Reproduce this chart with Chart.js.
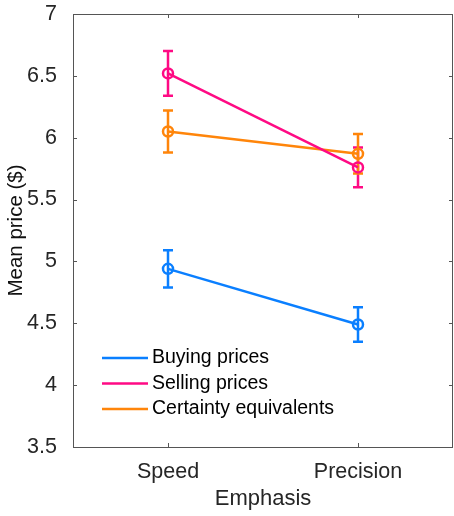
<!DOCTYPE html>
<html>
<head>
<meta charset="utf-8">
<script src="https://cdn.jsdelivr.net/npm/chart.js@4.4.1/dist/chart.umd.min.js"></script>
<style>
  html, body { margin: 0; padding: 0; background: #fff; }
  #wrap { width: 454px; height: 516px; }
</style>
</head>
<body>
<div id="wrap"><canvas id="chart"></canvas></div>
<script>
// DATA
const categories = ["Speed", "Precision"];
const buying = [4.94, 4.49];
const buyingErr = [0.15, 0.14];
const selling = [6.52, 5.76];
const sellingErr = [0.18, 0.16];
const certainty = [6.05, 5.87];
const certaintyErr = [0.17, 0.16];
const yTicks = [3.5, 4, 4.5, 5, 5.5, 6, 6.5, 7];

const BLUE = "#0a7fff";
const PINK = "#ff0a84";
const ORANGE = "#ff850a";
const AXIS = "#262626";
const FONT = "'Liberation Sans', Arial, sans-serif";

function makeSet(label, values, errs, color) {
  return {
    label: label,
    data: values,
    errors: errs,
    borderColor: color,
    backgroundColor: "rgba(0,0,0,0)",
    borderWidth: 2.5,
    pointRadius: 5,
    pointBorderWidth: 2.5,
    pointBackgroundColor: "rgba(0,0,0,0)",
    pointBorderColor: color,
    tension: 0
  };
}

// error bars, frame, inner ticks and legend
const extras = {
  id: "extras",
  beforeDatasetsDraw(chart) {
    const ctx = chart.ctx;
    const x = chart.scales.x;
    const y = chart.scales.y;
    ctx.save();
    chart.data.datasets.forEach((ds) => {
      ctx.strokeStyle = ds.borderColor;
      ctx.lineWidth = 2.5;
      ds.data.forEach((v, i) => {
        const px = x.getPixelForValue(i);
        const top = y.getPixelForValue(v + ds.errors[i]);
        const bot = y.getPixelForValue(v - ds.errors[i]);
        ctx.beginPath();
        ctx.moveTo(px, top); ctx.lineTo(px, bot);
        ctx.moveTo(px - 5, top); ctx.lineTo(px + 5, top);
        ctx.moveTo(px - 5, bot); ctx.lineTo(px + 5, bot);
        ctx.stroke();
      });
    });
    ctx.restore();
  },
  afterDraw(chart) {
    const ctx = chart.ctx;
    const a = chart.chartArea;
    const x = chart.scales.x;
    const y = chart.scales.y;
    ctx.save();
    ctx.strokeStyle = "#555";
    ctx.lineWidth = 1;
    ctx.strokeRect(a.left + 0.5, a.top + 0.5, a.right - a.left - 1, a.bottom - a.top);
    ctx.beginPath();
    yTicks.forEach((t) => {
      const py = Math.round(y.getPixelForValue(t)) + 0.5;
      ctx.moveTo(a.left, py); ctx.lineTo(a.left + 4, py);
      ctx.moveTo(a.right, py); ctx.lineTo(a.right - 4, py);
    });
    categories.forEach((c, i) => {
      const px = Math.round(x.getPixelForValue(i)) + 0.5;
      ctx.moveTo(px, a.bottom); ctx.lineTo(px, a.bottom - 4);
      ctx.moveTo(px, a.top); ctx.lineTo(px, a.top + 4);
    });
    ctx.stroke();

    // legend
    ctx.font = "19.5px " + FONT;
    ctx.textBaseline = "middle";
    ctx.fillStyle = "#000";
    chart.data.datasets.forEach((ds, i) => {
      const ly = 358 + i * 25.5;
      ctx.strokeStyle = ds.borderColor;
      ctx.lineWidth = 2.5;
      ctx.beginPath();
      ctx.moveTo(102, ly); ctx.lineTo(148, ly);
      ctx.stroke();
      ctx.fillText(ds.label, 152, ly);
    });
    ctx.restore();
  }
};

const chart = new Chart(document.getElementById("chart"), {
  type: "line",
  data: {
    labels: categories,
    datasets: [
      makeSet("Buying prices", buying, buyingErr, BLUE),
      makeSet("Selling prices", selling, sellingErr, PINK),
      makeSet("Certainty equivalents", certainty, certaintyErr, ORANGE)
    ]
  },
  options: {
    responsive: true,
    maintainAspectRatio: false,
    animation: false,
    layout: { padding: { top: 14, right: 1, left: 0, bottom: 0 }, autoPadding: false },
    plugins: {
      legend: { display: false },
      tooltip: { enabled: false }
    },
    scales: {
      x: {
        type: "category",
        offset: true,
        grid: { display: false },
        border: { display: false },
        ticks: { color: AXIS, font: { family: FONT, size: 21.5 }, padding: 4 },
        title: { display: true, text: "Emphasis", color: AXIS, font: { family: FONT, size: 22 }, padding: { top: 5 } },
        afterFit(s) { s.height = 69; s.paddingLeft = 0; s.paddingRight = 0; }
      },
      y: {
        min: 3.5,
        max: 7,
        grid: { display: false },
        border: { display: false },
        afterBuildTicks(s) { s.ticks = yTicks.map((v) => ({ value: v })); },
        ticks: {
          color: AXIS,
          font: { family: FONT, size: 21.5 },
          padding: 8,
          callback: (v) => String(v)
        },
        title: { display: true, text: "Mean price ($)", color: "#111", font: { family: FONT, size: 20.5 }, padding: { bottom: 2 } },
        afterFit(s) { s.width = 73; s.paddingTop = 0; s.paddingBottom = 0; }
      }
    }
  },
  plugins: [extras]
});
</script>
</body>
</html>
